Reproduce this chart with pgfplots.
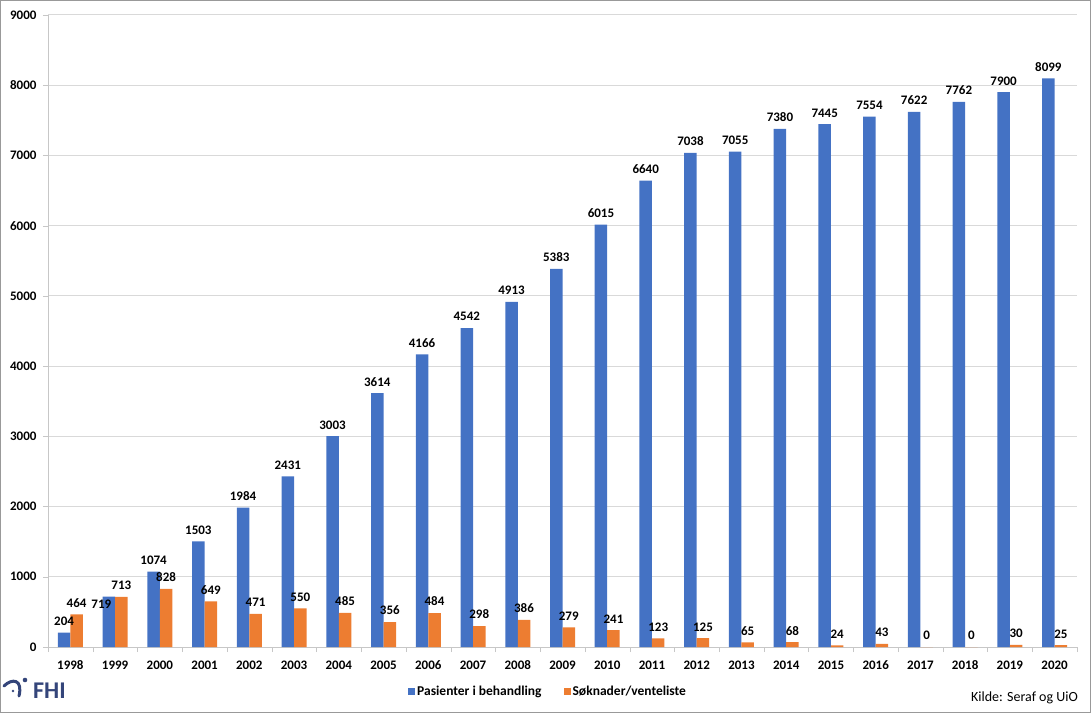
\documentclass[border=0pt]{standalone}
\usepackage{pgfplots}
\pgfplotsset{compat=1.18}
\usepackage{fontspec}
\setmainfont{Carlito}
\definecolor{barblue}{HTML}{4472C4}
\definecolor{barorange}{HTML}{ED7D31}
\definecolor{gridgray}{HTML}{D9D9D9}
\definecolor{fhiblue}{HTML}{34457A}

\begin{document}
\begin{tikzpicture}
    \useasboundingbox (-48bp,-66bp) rectangle (1043bp,647bp);
    \begin{axis}[
            scale only axis,
            width=1029bp,
            height=632bp,
            ybar,
            bar width=12.5bp,
            xmin=-0.5, xmax=22.5,
            ymin=0, ymax=9000,
            ytick={0,1000,...,9000},
            xtick={-0.5,0.5,...,22.5},
            x tick label as interval,
            xticklabels={1998,1999,2000,2001,2002,2003,2004,2005,2006,2007,2008,2009,2010,2011,2012,2013,2014,2015,2016,2017,2018,2019,2020},
            axis lines*=left,
            axis line style={gridgray!80!gray},
            ymajorgrids,
            grid style={gridgray, line width=1bp},
            major tick length=5bp,
            tick align=outside,
            tick style={draw=gridgray!80!gray},
            scaled y ticks=false,
            /pgf/number format/1000 sep={},
            /pgf/number format/assume math mode=true,
            tick label style={font=\fontsize{13bp}{15bp}\selectfont\bfseries},
            xticklabel style={yshift=-5bp},
            yticklabel style={xshift=-3bp},
            nodes near coords,
            every node near coord/.append style={font=\fontsize{13bp}{15bp}\selectfont\bfseries, black, yshift=3.5bp},
            legend style={draw=none, at={(0.486,-0.0712)}, anchor=center,
                legend columns=2, font=\fontsize{13.5bp}{15bp}\selectfont\bfseries,
                /tikz/every even column/.append style={column sep=20bp}},
            legend image code/.code={\path[#1,draw=none] (0bp,-3.5bp) rectangle (7bp,3.5bp);},
        ]

        % Pasienter i behandling
        \addplot[fill=barblue, draw=none, bar shift=-6.25bp,
            coordinate style/.condition={x==1}{xshift=-7.5bp, yshift=-19bp}] coordinates {
                (0,204) (1,719) (2,1074) (3,1503) (4,1984) (5,2431) (6,3003) (7,3614)
                (8,4166) (9,4542) (10,4913) (11,5383) (12,6015) (13,6640) (14,7038)
                (15,7055) (16,7380) (17,7445) (18,7554) (19,7622) (20,7762) (21,7900) (22,8099)
            };

        % Soknader/venteliste
        \addplot[fill=barorange, draw=none, bar shift=6.25bp] coordinates {
                (0,464) (1,713) (2,828) (3,649) (4,471) (5,550) (6,485) (7,356)
                (8,484) (9,298) (10,386) (11,279) (12,241) (13,123) (14,125)
                (15,65) (16,68) (17,24) (18,43) (19,0) (20,0) (21,30) (22,25)
            };

        \legend{Pasienter i behandling, Søknader/venteliste}
    \end{axis}

    % frame, logo and source
    \draw[gray!80, line width=1bp] (-47.5bp,-65.5bp) rectangle (1042.5bp,646.5bp);
    \node[anchor=east, font=\fontsize{14bp}{16bp}\selectfont, inner sep=0pt] at (1030bp,-50.7bp) {Kilde: Seraf og UiO};
    \node[anchor=base west, font=\fontsize{24bp}{26bp}\selectfont\bfseries, text=fhiblue, inner sep=0pt] at (-15bp,-51bp) {FHI};
    \draw[fhiblue, line width=3bp, line cap=round] (-44bp,-39bp) .. controls (-36bp,-31bp) and (-25bp,-32bp) .. (-29bp,-49bp);
    \fill[fhiblue] (-23bp,-33bp) circle (2.3bp);
    \fill[fhiblue] (-35bp,-44bp) circle (1.3bp);
\end{tikzpicture}
\end{document}
